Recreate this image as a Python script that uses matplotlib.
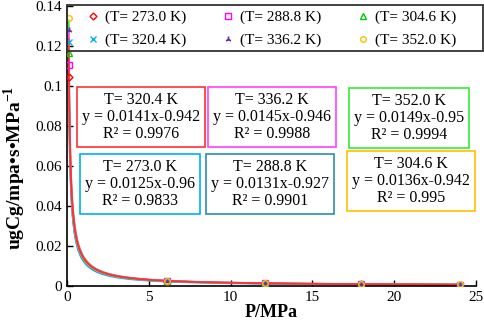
import numpy as np
import matplotlib.pyplot as plt
from matplotlib.patches import Rectangle
from matplotlib.ticker import FuncFormatter

plt.rcParams['font.family'] = ['Liberation Serif', 'DejaVu Serif']
plt.rcParams['mathtext.fontset'] = 'custom'
plt.rcParams['mathtext.rm'] = 'Liberation Serif'
plt.rcParams['mathtext.bf'] = 'Liberation Serif:bold'

# measured points (P in MPa)
pressure = [0.1, 6.1, 12.1, 18.0, 24.0]
temps = ['273.0', '288.8', '304.6', '320.4', '336.2', '352.0']
ug_273 = [0.1045, 0.0022, 0.0012, 0.0008, 0.0006]
ug_288 = [0.1105, 0.0025, 0.0013, 0.0009, 0.0007]
ug_304 = [0.1165, 0.0025, 0.0013, 0.0009, 0.0007]
ug_320 = [0.1222, 0.0026, 0.0014, 0.0009, 0.0007]
ug_336 = [0.1280, 0.0026, 0.0014, 0.0010, 0.0007]
ug_352 = [0.1340, 0.0027, 0.0014, 0.0010, 0.0008]
series = [ug_273, ug_288, ug_304, ug_320, ug_336, ug_352]

# power-law trendlines y = a * x^b
fit_a = [0.0125, 0.0131, 0.0136, 0.0141, 0.0145, 0.0149]
fit_b = [-0.96, -0.927, -0.942, -0.942, -0.946, -0.95]
fit_r2 = ['0.9833', '0.9901', '0.995', '0.9976', '0.9988', '0.9994']
fit_b_txt = ['-0.96', '-0.927', '-0.942', '-0.942', '-0.946', '-0.95']

marker_colors = ['#FF0000', '#FF00FF', '#00CC00', '#00B0F0', '#7030A0', '#FFC000']
markers = ['D', 's', '^', 'x', (3, 2, 0), 'o']
line_colors = ['#00B0F0', '#2E8BB5', '#FFC000', '#FF3030', '#FF40FF', '#33DD33']

W, H = 484, 331
fig = plt.figure(figsize=(4.84, 3.31), dpi=100)
ax = fig.add_axes([67/W, 45/H, 409/W, 280/H])

xs = np.linspace(0.1, 24.0, 600)
for i in [1, 0, 2, 5, 4, 3]:
    ax.plot(xs, fit_a[i] * xs ** fit_b[i], color=line_colors[i], lw=1.3, zorder=2)

handles = []
for i, t in enumerate(temps):
    filled = markers[i] in ('x', (3, 2, 0))
    h, = ax.plot(pressure, series[i], linestyle='none', marker=markers[i],
                 markersize=4 if markers[i] != 'D' else 3.5,
                 markerfacecolor=marker_colors[i] if filled else 'none',
                 markeredgecolor=marker_colors[i], markeredgewidth=1.0,
                 label=f'(T= {t} K)', zorder=3)
    handles.append(h)

ax.set_xlim(0, 25)
ax.set_ylim(0, 0.14)
ax.set_xticks([0, 5, 10, 15, 20, 25])
ax.set_yticks(np.arange(0, 0.141, 0.02))
ax.yaxis.set_major_formatter(FuncFormatter(lambda v, p: f'{v:g}'))
ax.tick_params(direction='in', labelsize=11, length=4, width=1)
ax.spines['top'].set_visible(False)
ax.spines['right'].set_visible(False)
for s in ['left', 'bottom']:
    ax.spines[s].set_linewidth(1.2)

ax.set_xlabel('P/MPa', fontsize=13, fontweight='bold', labelpad=0)
ax.set_ylabel(r'ugCg/mpa•s•MPa$^{\mathbf{-1}}$', fontsize=14, fontweight='bold')
ax.yaxis.set_label_coords(-0.096, 0.42)

# legend fills row by row like the original; frame drawn separately
order = [0, 3, 1, 4, 2, 5]
fig.legend(handles=[handles[k] for k in order], loc='upper left', ncol=3, mode='expand',
           bbox_to_anchor=(81/W, 1 - 54/H, 380/W, 48/H),
           borderaxespad=0, fontsize=11, frameon=False,
           handlelength=1.0, handletextpad=0.3, borderpad=0.3,
           labelspacing=0.6)
fig.patches.append(Rectangle((67/W, 1 - 51/H), 416/W, 46/H, transform=fig.transFigure,
                             fill=False, edgecolor='#333333', linewidth=1.3))

# equation boxes: (index, center x px, center y px)
boxes = [(3, 141, 117), (4, 272, 117), (5, 409, 118),
         (0, 140, 184), (1, 270, 184), (2, 411, 181)]
box_edges = ['#00B0F0', '#2E8BB5', '#FFC000', '#FF3030', '#FF40FF', '#33EE33']
for i, cx, cy in boxes:
    txt = f'T= {temps[i]} K\ny = {fit_a[i]}x{fit_b_txt[i]}\nR² = {fit_r2[i]}'
    fig.text(cx/W, 1 - cy/H, txt, ha='center', va='center', fontsize=11.5,
             multialignment='center', linespacing=1.12,
             bbox=dict(boxstyle='square,pad=0.3', facecolor='white',
                       edgecolor=box_edges[i], linewidth=1.2))

fig.savefig('out.png', dpi=100)
